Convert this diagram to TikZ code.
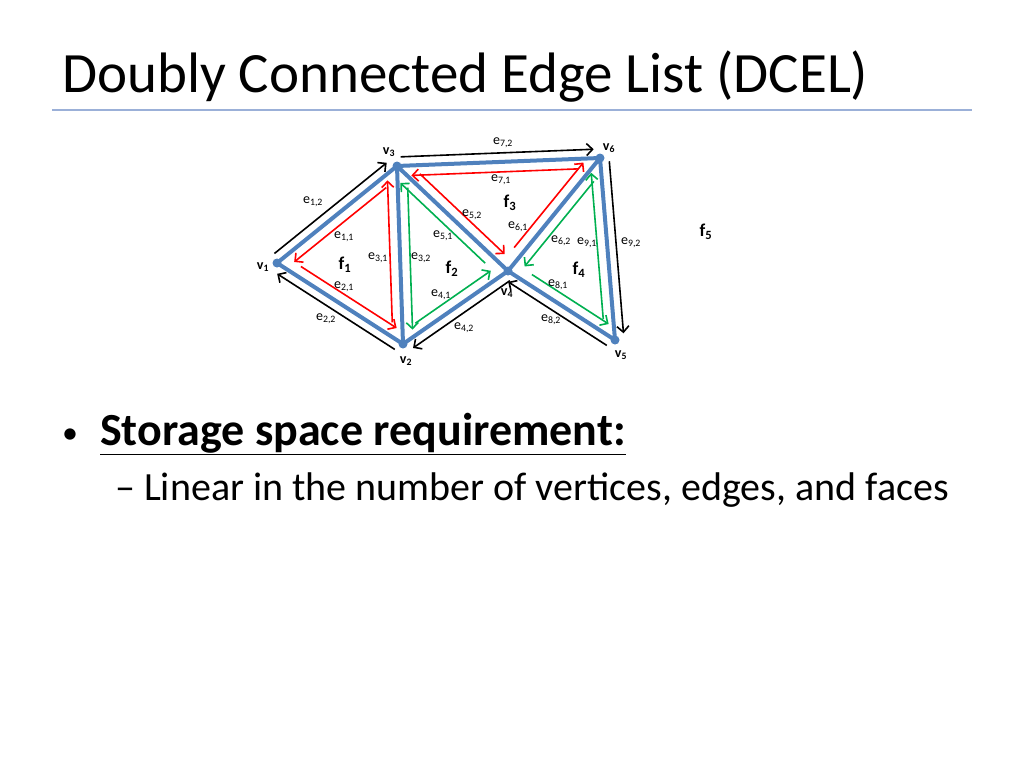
\documentclass[tikz,border=0pt]{standalone}
\usepackage{fontspec}
\setmainfont{Carlito}
\usetikzlibrary{calc,arrows.meta}

\definecolor{edgeblue}{HTML}{4F81BD}
\definecolor{ruleblue}{HTML}{9BB0D8}
\definecolor{hered}{HTML}{FF0000}
\definecolor{hegreen}{HTML}{00B050}

\tikzset{
  edge/.style   = {edgeblue,line width=4pt},
  vtx/.style    = {circle,fill=edgeblue,inner sep=0pt,minimum size=9pt},
  half/.style   = {line width=1.6pt,-{Straight Barb[length=6pt,width=12pt]}},
  inhalf/.style = {half,shorten <=22pt,shorten >=14pt},
  outhalf/.style= {half,black,shorten <=4pt,shorten >=6pt},
  hlab/.style   = {font=\fontsize{14}{16}\selectfont,inner sep=0pt},
  vlab/.style   = {font=\bfseries\fontsize{14}{16}\selectfont,inner sep=0pt},
  flab/.style   = {font=\bfseries\fontsize{18}{20}\selectfont,inner sep=0pt},
}

\begin{document}
\begin{tikzpicture}[x=1pt,y=-1pt]
\useasboundingbox (0,0) rectangle (1024,768);

% title
\node [anchor=base west,inner sep=0pt,font=\fontsize{57}{64}\selectfont] (title) at (62,92)
      {Doubly Connected Edge List (DCEL)};
\draw [ruleblue,line width=1.5pt] (52,110) -- (972,110);

% vertices
\path
    (277,263) coordinate (v1)
    (403,344) coordinate (v2)
    (397,166) coordinate (v3)
    (508,271) coordinate (v4)
    (615,340) coordinate (v5)
    (600,158) coordinate (v6);

% edges
\draw [edge] (v1) -- (v3) -- (v6) -- (v5) -- (v4) -- (v2) -- (v1)
             (v3) -- (v2)   (v3) -- (v4) -- (v6);

% half-edges, each one left of its direction
\foreach \a/\b/\c in {v3/v1/hered,   v1/v2/hered,   v2/v3/hered,
                      v3/v2/hegreen, v2/v4/hegreen, v4/v3/hegreen,
                      v6/v3/hered,   v3/v4/hered,   v4/v6/hered,
                      v6/v4/hegreen, v4/v5/hegreen, v5/v6/hegreen}
  \draw [inhalf,\c] ($(\a)!10pt!90:(\b)$) -- ($(\b)!10pt!-90:(\a)$);
\foreach \a/\b in {v1/v3, v3/v6, v6/v5, v5/v4, v4/v2, v2/v1}
  \draw [outhalf] ($(\a)!9pt!90:(\b)$) -- ($(\b)!9pt!-90:(\a)$);

\foreach \v in {v1,v2,v3,v4,v5,v6}
  \node [vtx] (\v dot) at (\v) {};

% vertex labels
\path
    (263,267) node [vlab] (lv1) {v\textsubscript{1}}
    (406,361) node [vlab] (lv2) {v\textsubscript{2}}
    (389,152) node [vlab] (lv3) {v\textsubscript{3}}
    (507,293) node [vlab] (lv4) {v\textsubscript{4}}
    (621,355) node [vlab] (lv5) {v\textsubscript{5}}
    (609,148) node [vlab] (lv6) {v\textsubscript{6}};

% face labels
\path
    (345,265) node [flab] (f1) {f\textsubscript{1}}
    (452,269) node [flab] (f2) {f\textsubscript{2}}
    (510,203) node [flab] (f3) {f\textsubscript{3}}
    (579,270) node [flab] (f4) {f\textsubscript{4}}
    (706,232) node [flab] (f5) {f\textsubscript{5}};

% half-edge labels
\path
    (313,202) node [hlab] (l12) {e\textsubscript{1,2}}
    (344,237) node [hlab] (l11) {e\textsubscript{1,1}}
    (378,258) node [hlab] (l31) {e\textsubscript{3,1}}
    (421,258) node [hlab] (l32) {e\textsubscript{3,2}}
    (344,287) node [hlab] (l21) {e\textsubscript{2,1}}
    (326,319) node [hlab] (l22) {e\textsubscript{2,2}}
    (441,295) node [hlab] (l41) {e\textsubscript{4,1}}
    (464,328) node [hlab] (l42) {e\textsubscript{4,2}}
    (443,236) node [hlab] (l51) {e\textsubscript{5,1}}
    (472,215) node [hlab] (l52) {e\textsubscript{5,2}}
    (518,227) node [hlab] (l61) {e\textsubscript{6,1}}
    (561,241) node [hlab] (l62) {e\textsubscript{6,2}}
    (501,180) node [hlab] (l71) {e\textsubscript{7,1}}
    (503,143) node [hlab] (l72) {e\textsubscript{7,2}}
    (558,285) node [hlab] (l81) {e\textsubscript{8,1}}
    (551,320) node [hlab] (l82) {e\textsubscript{8,2}}
    (587,243) node [hlab] (l91) {e\textsubscript{9,1}}
    (631,243) node [hlab] (l92) {e\textsubscript{9,2}};

% bullets
\path
    ( 62,443) node [anchor=base west,inner sep=0pt,font=\fontsize{32}{36}\selectfont] (b1) {•}
    (100,445) node [anchor=base west,inner sep=0pt,font=\bfseries\fontsize{46}{50}\selectfont] (t1)
          {\underline{Storage space requirement:}}
    (115,500) node [anchor=base west,inner sep=0pt,font=\fontsize{40}{44}\selectfont] (t2)
          {– Linear in the number of vertices, edges, and faces};
\end{tikzpicture}
\end{document}
